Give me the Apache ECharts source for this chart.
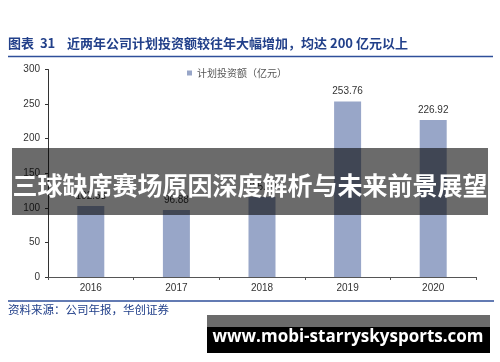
<!DOCTYPE html>
<html>
<head>
<meta charset="utf-8">
<script src="https://cdn.jsdelivr.net/npm/echarts@6/dist/echarts.min.js"></script>
<style>
html,body{margin:0;padding:0;background:#fff;}
#chart{width:500px;height:362px;}
</style>
</head>
<body>
<div id="chart"></div>
<script>
const categories = ['2016', '2017', '2018', '2019', '2020'];
const investment = [102.53, 96.88, 115.6, 253.76, 226.92];
const seriesName = '计划投资额（亿元）';
const yTicks = [0, 50, 100, 150, 200, 250, 300];
const titleText = '图表  31    近两年公司计划投资额较往年大幅增加，均达 200 亿元以上';
const sourceText = '资料来源：公司年报，华创证券';
const overlayText = '三球缺席赛场原因深度解析与未来前景展望';
const watermarkText = 'www.mobi-starryskysports.com';

const chart = echarts.init(document.getElementById('chart'), null, {renderer: 'canvas'});
const navy = '#22408a';
chart.setOption({
  animation: false,
  backgroundColor: '#fff',
  grid: {left: 48, right: 24, top: 69.5, bottom: 85},
  legend: {
    data: [seriesName],
    left: 182, top: 63,
    itemWidth: 5, itemHeight: 5, itemGap: 4,
    icon: 'rect',
    textStyle: {fontSize: 10, color: '#555', fontFamily: 'Noto Sans CJK SC'}
  },
  xAxis: {
    type: 'category',
    data: categories,
    axisLine: {lineStyle: {color: '#555', width: 1}},
    axisTick: {show: true, alignWithLabel: false, length: 3, lineStyle: {color: '#555'}},
    axisLabel: {fontSize: 10, color: '#333', margin: 6, fontFamily: 'Liberation Sans'}
  },
  yAxis: {
    type: 'value',
    min: yTicks[0], max: yTicks[yTicks.length - 1], interval: 50,
    axisLine: {show: true, lineStyle: {color: '#333', width: 1}},
    axisTick: {show: true, length: 3, lineStyle: {color: '#333'}},
    splitLine: {show: false},
    axisLabel: {fontSize: 10, color: '#333', margin: 8, fontFamily: 'Liberation Sans'}
  },
  series: [{
    name: seriesName,
    type: 'bar',
    data: investment,
    barWidth: 27,
    itemStyle: {color: '#98a6c8'},
    label: {show: true, position: 'top', distance: 5, fontSize: 10, color: '#333', fontFamily: 'Liberation Sans',
      formatter: p => p.value.toFixed(2)}
  }],
  graphic: [
    {type: 'text', left: 8, top: 37, z: 10,
      style: {text: titleText, fontSize: 13, fontWeight: 'bold', fill: navy, fontFamily: 'Noto Sans CJK SC'}},
    {type: 'line', z: 10, shape: {x1: 8, y1: 56.5, x2: 493, y2: 56.5}, style: {stroke: '#2f4f9a', lineWidth: 1.5}},
    {type: 'line', z: 10, shape: {x1: 8, y1: 301, x2: 494, y2: 301}, style: {stroke: '#2f4f9a', lineWidth: 1.5}},
    {type: 'text', left: 8, top: 304, z: 10,
      style: {text: sourceText, fontSize: 11.5, fill: navy, fontFamily: 'Noto Sans CJK SC'}},
    {type: 'rect', z: 20, shape: {x: 12, y: 148, width: 476, height: 67}, style: {fill: 'rgba(0,0,0,0.58)'}},
    {type: 'text', z: 21, x: 250, y: 185,
      style: {text: overlayText, fontSize: 25, fontWeight: 'bold', fill: '#fff', align: 'center', verticalAlign: 'middle', fontFamily: 'Noto Sans CJK SC'}},
    {type: 'rect', z: 20, shape: {x: 207, y: 315, width: 283, height: 12}, style: {fill: '#6b6b6b'}},
    {type: 'rect', z: 20, shape: {x: 207, y: 327, width: 283, height: 26}, style: {fill: '#000'}},
    {type: 'text', z: 21, x: 348, y: 337,
      style: {text: watermarkText, fontSize: 17, fontWeight: 'bold', fill: '#fff', align: 'center', verticalAlign: 'middle', fontFamily: 'Open Sans'}}
  ]
});
</script>
</body>
</html>
